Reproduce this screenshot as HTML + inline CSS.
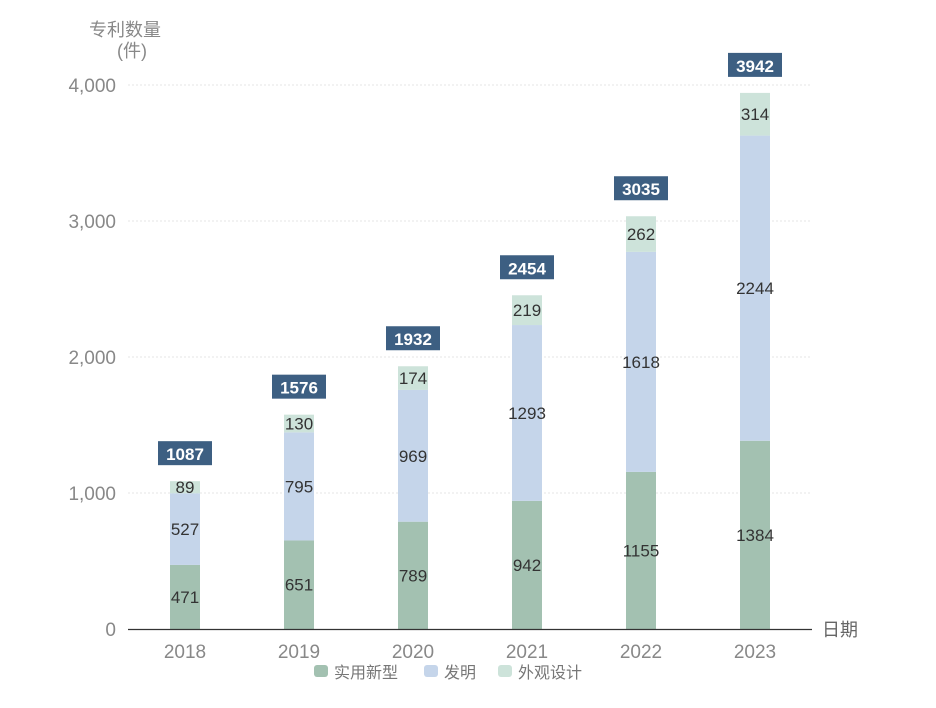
<!DOCTYPE html>
<html><head><meta charset="utf-8"><style>
body{margin:0;background:#fff;font-family:"Liberation Sans","Noto Sans CJK SC",sans-serif;}
svg text{font-family:"Liberation Sans","Noto Sans CJK SC",sans-serif;}
</style></head><body>
<svg id="chart" width="936" height="703">
<text x="125" y="36" font-size="18" fill="#888" text-anchor="middle">专利数量</text>
<text x="132" y="57" font-size="18" fill="#888" text-anchor="middle">(件)</text>
<text x="822" y="636" font-size="18" fill="#666">日期</text>
<g id="grid"></g><g id="bars"></g>
<line x1="128" y1="629.5" x2="812" y2="629.5" stroke="#333" stroke-width="1.2"/>
<g>
<rect x="314" y="665" width="14" height="12" rx="3" fill="#a3c1b1"/>
<text x="334" y="678" font-size="16" fill="#777">实用新型</text>
<rect x="424" y="665" width="14" height="12" rx="3" fill="#c5d5ea"/>
<text x="444" y="678" font-size="16" fill="#777">发明</text>
<rect x="498" y="665" width="14" height="12" rx="3" fill="#cde3da"/>
<text x="518" y="678" font-size="16" fill="#777">外观设计</text>
</g>
</svg>
<script>
const categories=["2018","2019","2020","2021","2022","2023"];
const utility=[471,651,789,942,1155,1384];
const invention=[527,795,969,1293,1618,2244];
const design=[89,130,174,219,262,314];
const yTicks=[0,1000,2000,3000,4000];
const yTickLabels=["0","1,000","2,000","3,000","4,000"];
const NS="http://www.w3.org/2000/svg";
const y=v=>629-v*0.136;
const x=i=>185+i*114;
function mk(tag,attrs,parent){const e=document.createElementNS(NS,tag);for(const k in attrs)e.setAttribute(k,attrs[k]);parent.appendChild(e);return e;}
const grid=document.getElementById('grid'),bars=document.getElementById('bars');
yTicks.forEach((t,i)=>{
 if(t>0){const l=mk('line',{x1:128,x2:812,y1:y(t),y2:y(t),stroke:'#e6e6e6','stroke-dasharray':'2,2'},grid);
 
 }
 const tx=mk('text',{x:116,y:y(t)+7,'font-size':19,fill:'#888','text-anchor':'end'},grid);tx.textContent=yTickLabels[i];
 
 
});
const series=[[utility,'#a3c1b1','utility'],[invention,'#c5d5ea','invention'],[design,'#cde3da','design']];
categories.forEach((c,i)=>{
 let base=0;
 series.forEach(([arr,col,nm])=>{
  const v=arr[i];
  const r=mk('rect',{x:x(i)-15,y:y(base+v),width:30,height:v*0.136,fill:col},bars);
  
  
  const t=mk('text',{x:x(i),y:y(base+v/2)+6,'font-size':17,fill:'#333','text-anchor':'middle'},bars);t.textContent=v;
  
  
  base+=v;
 });
 const ty=y(base)-26;
 const b=mk('rect',{x:x(i)-27,y:ty-14,width:54,height:24,fill:'#3d5f82'},bars);
 
 
 const tt=mk('text',{x:x(i),y:ty+5,'font-size':17,'font-weight':'bold',fill:'#fff','text-anchor':'middle'},bars);tt.textContent=base;
 
 
 const xl=mk('text',{x:x(i),y:658,'font-size':19,fill:'#888','text-anchor':'middle'},bars);xl.textContent=c;
 
 
});
</script>
</body></html>
